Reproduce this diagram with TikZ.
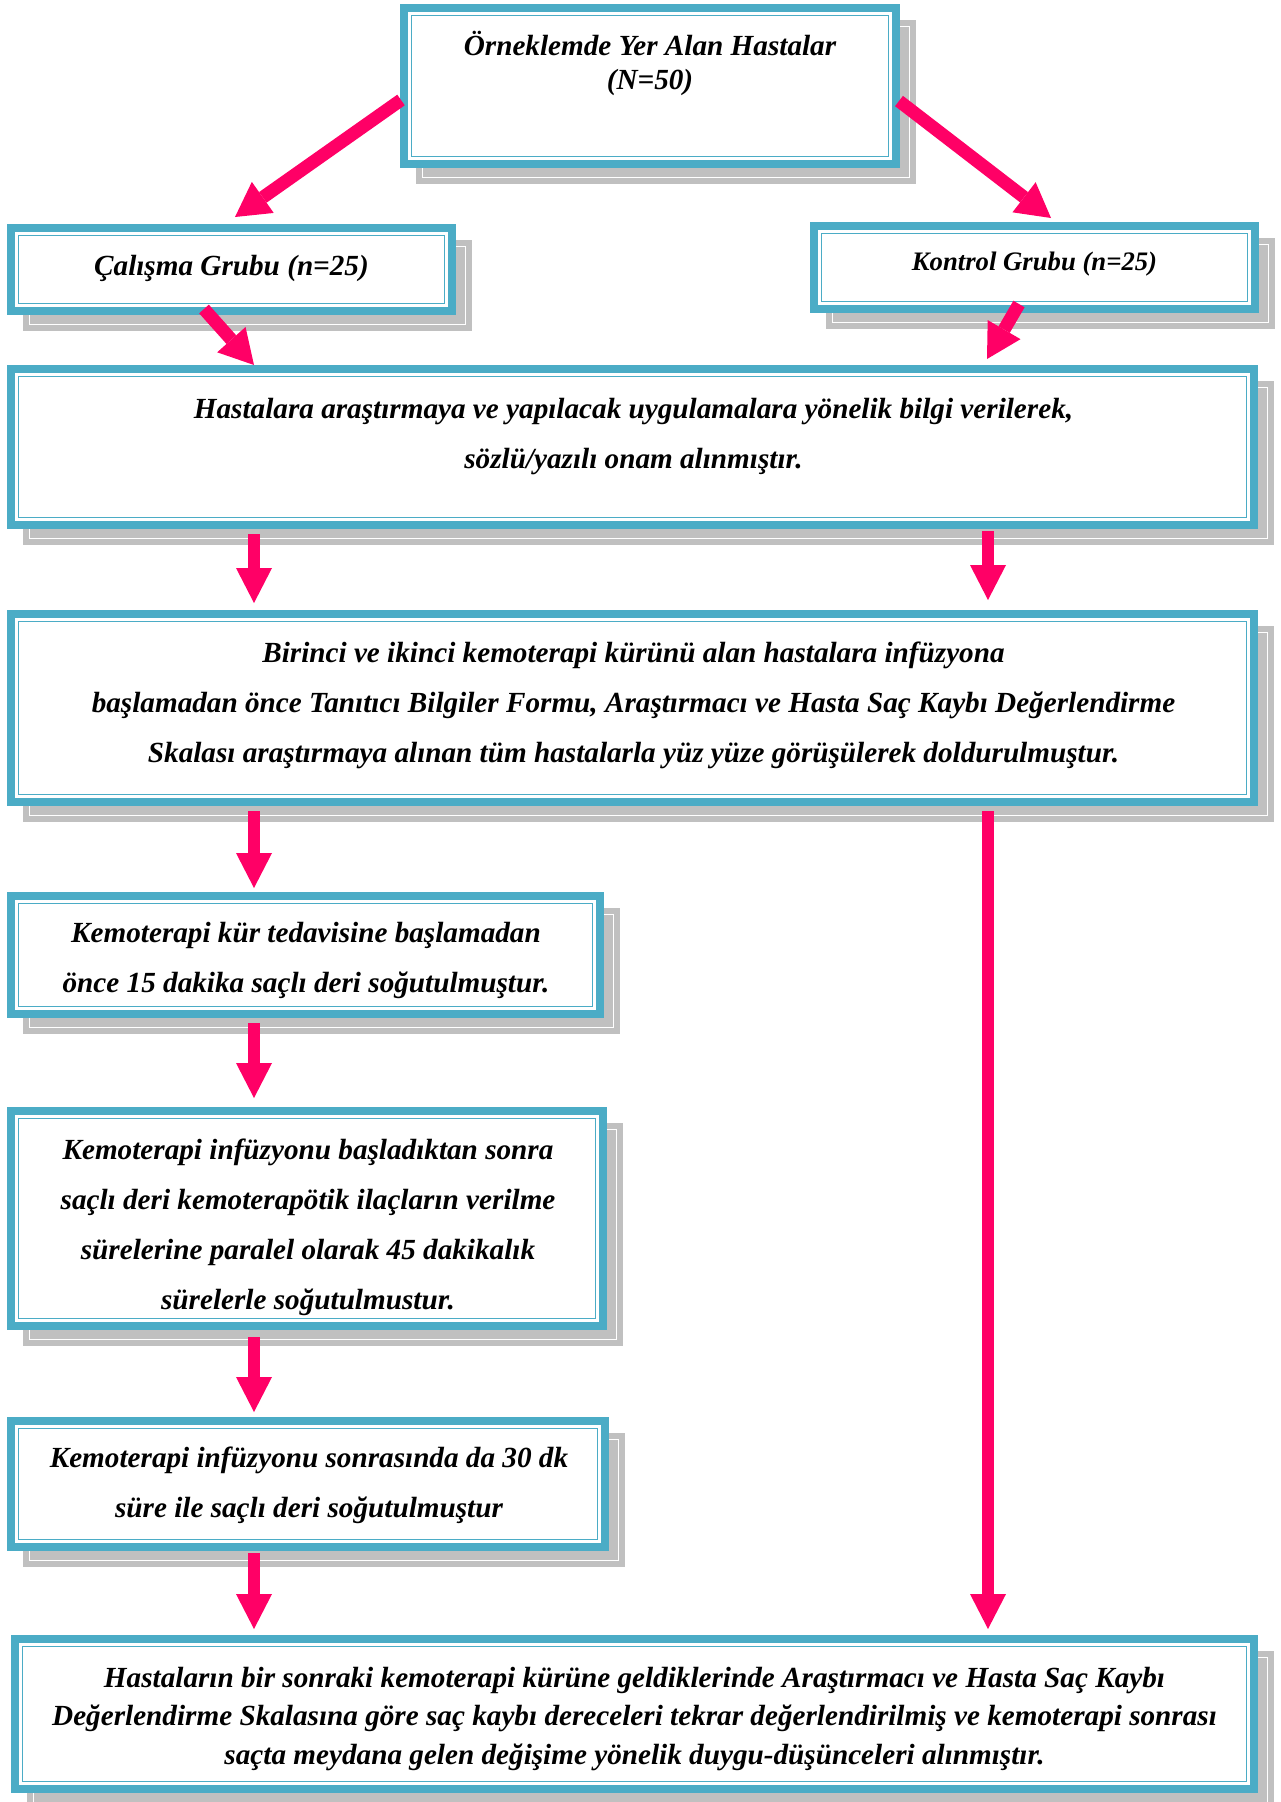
\documentclass[tikz,border=0pt]{standalone}
\usepackage{fontspec}
\setmainfont{Liberation Serif}
\usetikzlibrary{arrows.meta,calc}
\definecolor{tealA}{HTML}{4BACC6}
\definecolor{pinkA}{HTML}{FF0066}
\definecolor{shgray}{HTML}{C0C0C0}
\tikzset{
  fbox/.style={rectangle, draw=tealA, line width=8pt, fill=white, inner sep=0pt, outer sep=4pt},
  innerline/.style={draw=tealA, line width=1.8pt},
  shadowline/.style={draw=white, line width=1.3pt},
  arr/.style={draw=pinkA, line width=12pt, -{Triangle[length=35pt,width=36pt,line width=0pt]}},
  darr/.style={draw=pinkA, line width=13pt, -{Triangle[length=34pt,width=38pt,line width=0pt]}},
  txt/.style={align=center, inner sep=0pt, font=\fontsize{29.2pt}{50pt}\selectfont\bfseries\itshape},
}
\newcommand\fancyframe[5]{%
  \fill[shgray] (#2+16,#3+16) rectangle (#4+16,#5+16);
  \draw[shadowline] (#2+22.5,#3+22.5) rectangle (#4+9.5,#5+9.5);
  \pgfmathsetmacro\fbw{#4-#2-8}%
  \pgfmathsetmacro\fbh{#5-#3-8}%
  \node[fbox, minimum width=\fbw pt, minimum height=\fbh pt] (#1) at ({(#2+#4)/2},{(#3+#5)/2}) {};
  \draw[innerline] (#2+11.5,#3+11.5) rectangle (#4-11.5,#5-11.5);
}
\begin{document}
\begin{tikzpicture}[x=1pt,y=-1pt]
\useasboundingbox (0,0) rectangle (1281,1802);
% boxes
\fancyframe{b1}{400}{4}{900}{168}
\fancyframe{b2}{7}{224}{456}{315}
\fancyframe{b3}{810}{222}{1259}{313}
\fancyframe{b4}{7}{365}{1258}{529}
\fancyframe{b5}{7}{610}{1258}{806}
\fancyframe{b6}{7}{892}{604}{1018}
\fancyframe{b7}{7}{1107}{607}{1330}
\fancyframe{b8}{7}{1417}{609}{1551}
\fancyframe{b9}{11}{1635}{1258}{1793}
% texts
\node[txt, font=\fontsize{29.2pt}{34pt}\selectfont\bfseries\itshape] (t1) at (650,63) {Örneklemde Yer Alan Hastalar\\(N=50)};
\node[txt] (t2) at (231.5,268) {Çalışma Grubu (n=25)};
\node[txt, font=\fontsize{26.7pt}{32pt}\selectfont\bfseries\itshape] (t3) at (1034.5,264) {Kontrol Grubu (n=25)};
\node[txt] (t4) at (633.5,437) {Hastalara araştırmaya ve yapılacak uygulamalara yönelik bilgi verilerek,\\sözlü/yazılı onam alınmıştır.};
\node[txt] (t5) at (633.5,705) {Birinci ve ikinci kemoterapi kürünü alan hastalara infüzyona\\başlamadan önce Tanıtıcı Bilgiler Formu, Araştırmacı ve Hasta Saç Kaybı Değerlendirme\\Skalası araştırmaya alınan tüm hastalarla yüz yüze görüşülerek doldurulmuştur.};
\node[txt] (t6) at (306,960) {Kemoterapi kür tedavisine başlamadan\\önce 15 dakika saçlı deri soğutulmuştur.};
\node[txt] (t7) at (308,1227) {Kemoterapi infüzyonu başladıktan sonra\\saçlı deri kemoterapötik ilaçların verilme\\sürelerine paralel olarak 45 dakikalık\\sürelerle soğutulmustur.};
\node[txt] (t8) at (309,1485.5) {Kemoterapi infüzyonu sonrasında da 30 dk\\süre ile saçlı deri soğutulmuştur};
\node[txt, font=\fontsize{29.2pt}{38.5pt}\selectfont\bfseries\itshape] (t9) at (634.5,1718.5) {Hastaların bir sonraki kemoterapi kürüne geldiklerinde Araştırmacı ve Hasta Saç Kaybı\\Değerlendirme Skalasına göre saç kaybı dereceleri tekrar değerlendirilmiş ve kemoterapi sonrası\\saçta meydana gelen değişime yönelik duygu-düşünceleri alınmıştır.};
% columns
\coordinate (cl) at (254,0);
\coordinate (cr) at (988,0);
% diagonal arrows
\draw[darr] ($(b1.north west)+(1,96)$) -- ($(b2.north west)+(228,-7)$);
\draw[darr] ($(b1.north east)+(-1,97)$) -- ($(b3.north west)+(241,-4)$);
\draw[darr] ($(b2.south west)+(197,-6)$) -- ($(b4.north west)+(247,0)$);
\draw[darr] ($(b3.south west)+(209,-9)$) -- ($(b4.north west)+(980,-6)$);
% vertical arrows
\draw[arr] ($(b4.south -| cl)+(0,5)$) -- ($(b5.north -| cl)+(0,-7)$);
\draw[arr] ($(b4.south -| cr)+(0,2)$) -- ($(b5.north -| cr)+(0,-10)$);
\draw[arr] ($(b5.south -| cl)+(0,5)$) -- ($(b6.north -| cl)+(0,-4)$);
\draw[arr] ($(b5.south -| cr)+(0,5)$) -- ($(b9.north -| cr)+(0,-6)$);
\draw[arr] ($(b6.south -| cl)+(0,5)$) -- ($(b7.north -| cl)+(0,-9)$);
\draw[arr] ($(b7.south -| cl)+(0,7)$) -- ($(b8.north -| cl)+(0,-5)$);
\draw[arr] ($(b8.south -| cl)+(0,2)$) -- ($(b9.north -| cl)+(0,-6)$);
\end{tikzpicture}
\end{document}
